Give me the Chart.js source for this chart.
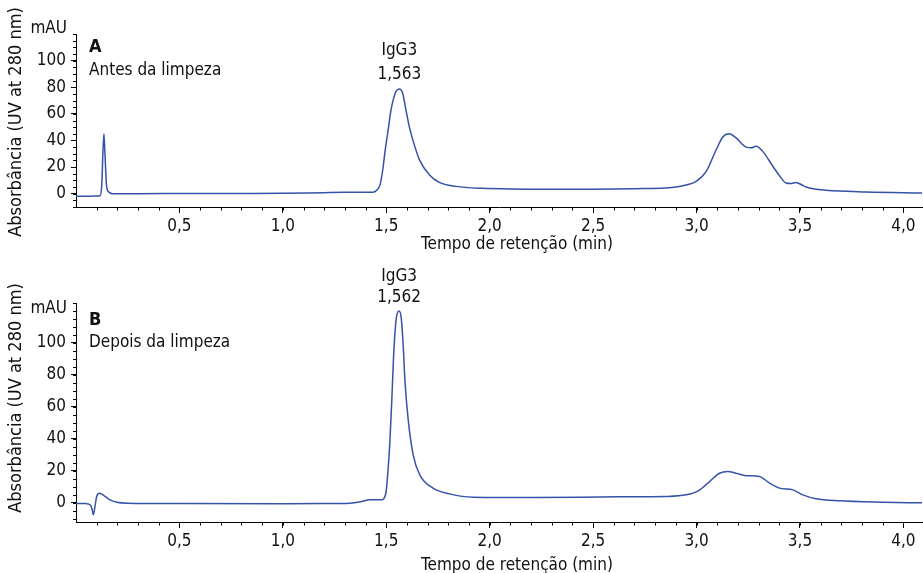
<!DOCTYPE html>
<html>
<head>
<meta charset="utf-8">
<script src="https://cdn.jsdelivr.net/npm/chart.js@4"></script>
<style>
  body { margin: 0; background: #fff; }
  .panel { position: absolute; left: 0; width: 923px; }
  #wrapA { top: 0; height: 262px; }
  #wrapB { top: 265px; height: 308px; }
</style>
</head>
<body>
<div class="panel" id="wrapA"><canvas id="chartA"></canvas></div>
<div class="panel" id="wrapB"><canvas id="chartB"></canvas></div>
<script>
// run A: before column cleaning
const timeA = [0, 0.05, 0.09, 0.116, 0.124, 0.130, 0.135, 0.140, 0.148, 0.161,
  0.175, 0.3, 0.5, 0.8, 1.0, 1.2, 1.3, 1.38, 1.434, 1.454,
  1.470, 1.483, 1.495, 1.507, 1.523, 1.534, 1.547, 1.563, 1.579, 1.595,
  1.611, 1.628, 1.660, 1.708, 1.756, 1.837, 1.966, 2.1, 2.3, 2.5,
  2.7, 2.85, 2.902, 2.95, 2.998, 3.047, 3.095, 3.127, 3.159, 3.191,
  3.240, 3.265, 3.288, 3.320, 3.369, 3.401, 3.433, 3.455, 3.481, 3.51,
  3.530, 3.627, 3.72, 3.820, 4.09];
const absA = [-2, -2, -1.8, -1.5, 5, 30, 45, 30, 5.5, 1,
  0, 0, 0.1, 0.2, 0.3, 0.8, 1.0, 1.0, 1.0, 2.5,
  6.8, 18, 33, 45.6, 63, 70.7, 76.9, 78.7, 75.7, 63,
  50.6, 40.6, 25.6, 14.3, 8.5, 5.5, 4, 3.6, 3.3, 3.4,
  3.8, 4.3, 5, 6.5, 9.3, 16.8, 33, 42.6, 45, 41.9,
  35, 34.5, 35.7, 31.8, 20.6, 13.5, 8, 7.6, 8.5, 6.5,
  5, 2.5, 1.8, 1.2, 0.5];

// run B: after column cleaning
const timeB = [0, 0.05, 0.07, 0.078, 0.084, 0.092, 0.1, 0.113, 0.13, 0.148,
  0.17, 0.197, 0.25, 0.5, 1.0, 1.2, 1.324, 1.38, 1.420, 1.477,
  1.498, 1.507, 1.517, 1.527, 1.536, 1.549, 1.562, 1.572, 1.582, 1.590,
  1.606, 1.630, 1.662, 1.726, 1.807, 1.919, 2.21, 2.628, 2.854, 2.950,
  3.014, 3.063, 3.111, 3.151, 3.191, 3.240, 3.304, 3.353, 3.401, 3.466,
  3.514, 3.578, 3.691, 3.9, 4.09];
const absB = [-0.4, -0.5, -1.5, -4, -7.5, -2, 4, 6, 5, 3.3,
  1.5, 0.4, -0.2, -0.5, -0.6, -0.5, -0.2, 0.8, 1.9, 1.9,
  6, 18, 37, 65, 93.5, 116, 120, 116, 98, 77,
  52, 30, 17.5, 9.2, 5.6, 3.5, 3.3, 3.8, 4, 5,
  8, 13.3, 18.5, 19.6, 18.5, 17, 16.5, 12.3, 9.2, 8.1,
  5, 2.5, 1.25, 0.4, 0];

const peakName = 'IgG3';
const peakTimes = [1.563, 1.562];

const xTicks = [0.5, 1.0, 1.5, 2.0, 2.5, 3.0, 3.5, 4.0];
const yTicks = [0, 20, 40, 60, 80, 100];

const FONT = '"DejaVu Sans Condensed", "Liberation Sans Narrow", "Roboto Condensed", sans-serif';
const INK = '#111';
const LINE = '#3553a8';

// minor ticks, panel captions, axis titles and the peak label
const decor = {
  id: 'decor',
  afterDraw(chart, args, o) {
    const {ctx, chartArea: ca, scales: {x, y}} = chart;
    ctx.save();
    ctx.strokeStyle = '#000';
    ctx.lineWidth = 1;
    ctx.beginPath();
    for (let i = 1; i * 0.1 <= x.max; i++) {
      const px = Math.round(x.getPixelForValue(i / 10)) + 0.5;
      ctx.moveTo(px, ca.bottom);
      ctx.lineTo(px, ca.bottom + 3.5);
    }
    for (let v = Math.ceil(y.min / 5) * 5; v <= y.max; v += 5) {
      const py = Math.round(y.getPixelForValue(v)) + 0.5;
      ctx.moveTo(ca.left, py);
      ctx.lineTo(ca.left - 3, py);
    }
    ctx.stroke();

    ctx.fillStyle = INK;
    ctx.textBaseline = 'alphabetic';
    ctx.textAlign = 'left';
    ctx.font = 'bold 18px ' + FONT;
    ctx.fillText(o.letter, ca.left + 13, o.letterY);
    ctx.font = '17px ' + FONT;
    ctx.fillText(o.caption, ca.left + 13, o.captionY);

    ctx.textAlign = 'right';
    ctx.textBaseline = 'middle';
    ctx.fillText('mAU', 67, o.unitY);

    ctx.textAlign = 'center';
    ctx.fillText('Tempo de retenção (min)', o.xTitleX, o.xTitleY);

    ctx.save();
    ctx.translate(16.5, o.yTitleY);
    ctx.rotate(-Math.PI / 2);
    ctx.font = '18px ' + FONT;
    ctx.fillText('Absorbância (UV at 280 nm)', 0, 0);
    ctx.restore();

    // label above the main peak, placed at its data point
    const pts = chart.data.datasets[0].data;
    const top = pts.find(p => p.x === o.peakTime);
    const px = x.getPixelForValue(top.x);
    const py = y.getPixelForValue(top.y);
    ctx.fillText(o.peakTime.toFixed(3).replace('.', ','), px, py - o.gap1);
    ctx.fillText(peakName, px, py - o.gap2);
    ctx.restore();
  }
};

function makeChart(id, times, values, yMin, yMax, padTop, xHeight, extra) {
  return new Chart(document.getElementById(id), {
    type: 'line',
    data: {
      datasets: [{
        data: times.map((t, i) => ({x: t, y: values[i]})),
        borderColor: LINE,
        borderWidth: 1.5,
        pointRadius: 0,
        cubicInterpolationMode: 'monotone',
        fill: false
      }]
    },
    options: {
      responsive: true,
      maintainAspectRatio: false,
      animation: false,
      layout: { padding: { top: padTop, right: 1, left: 0, bottom: 0 } },
      plugins: { legend: { display: false }, tooltip: { enabled: false }, decor: extra },
      scales: {
        x: {
          type: 'linear',
          min: 0,
          max: 4.09,
          afterBuildTicks: s => { s.ticks = xTicks.map(v => ({value: v})); },
          afterFit: s => { s.height = xHeight; },
          ticks: {
            autoSkip: false, maxRotation: 0, padding: 3, color: INK,
            font: { family: FONT, size: 17 },
            callback: v => v.toFixed(1).replace('.', ',')
          },
          grid: { drawOnChartArea: false, tickLength: 6, color: '#000' },
          border: { color: '#000', width: 1 }
        },
        y: {
          min: yMin,
          max: yMax,
          afterBuildTicks: s => { s.ticks = yTicks.map(v => ({value: v})); },
          afterFit: s => { s.width = 76; },
          ticks: { padding: 5, color: INK, font: { family: FONT, size: 17 } },
          grid: { drawOnChartArea: false, tickLength: 5, color: '#000' },
          border: { color: '#000', width: 1 }
        }
      }
    },
    plugins: [decor]
  });
}

makeChart('chartA', timeA, absA, -10, 120, 34, 55, {
  letter: 'A', caption: 'Antes da limpeza', letterY: 52, captionY: 74.5,
  unitY: 29, xTitleX: 517, xTitleY: 245, yTitleY: 122, peakTime: peakTimes[0],
  gap1: 14, gap2: 38
});

makeChart('chartB', timeB, absB, -12, 125, 38, 51, {
  letter: 'B', caption: 'Depois da limpeza', letterY: 60, captionY: 82,
  unitY: 44, xTitleX: 517, xTitleY: 301, yTitleY: 133, peakTime: peakTimes[1],
  gap1: 13, gap2: 34
});
</script>
</body>
</html>
